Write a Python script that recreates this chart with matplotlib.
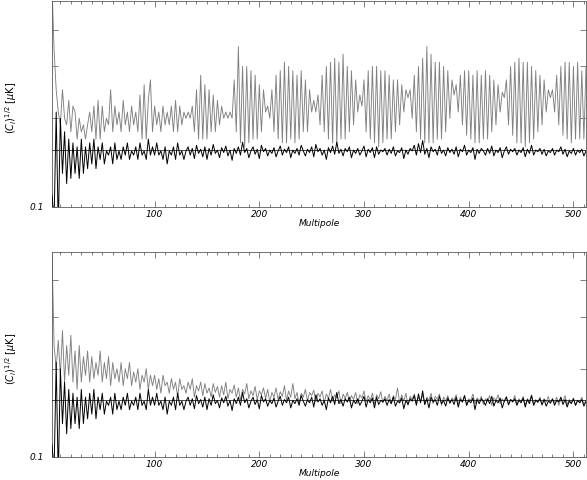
import numpy as np
import matplotlib
matplotlib.use("Agg")
import matplotlib.pyplot as plt

# multipoles (every second one)
ell = np.arange(2, 513, 2)

# top panel, grey curve (sqrt C_l, uK)
top_grey = [
    0.56, 0.34, 0.25, 0.21, 0.19, 0.25, 0.20, 0.19, 0.23, 0.18, 0.22, 0.21, 0.17, 0.20, 0.18, 0.19,
    0.17, 0.19, 0.21, 0.18, 0.22, 0.17, 0.23, 0.17, 0.22, 0.18, 0.20, 0.19, 0.25, 0.18, 0.22, 0.19,
    0.21, 0.18, 0.23, 0.19, 0.21, 0.18, 0.22, 0.19, 0.21, 0.18, 0.24, 0.17, 0.26, 0.17, 0.23, 0.27,
    0.18, 0.22, 0.19, 0.21, 0.18, 0.22, 0.19, 0.21, 0.19, 0.22, 0.18, 0.23, 0.18, 0.22, 0.19, 0.21,
    0.20, 0.21, 0.20, 0.22, 0.18, 0.25, 0.17, 0.28, 0.17, 0.26, 0.17, 0.25, 0.18, 0.24, 0.18, 0.23,
    0.19, 0.22, 0.20, 0.21, 0.20, 0.21, 0.20, 0.27, 0.18, 0.35, 0.165, 0.30, 0.16, 0.30, 0.165, 0.29,
    0.17, 0.28, 0.17, 0.26, 0.18, 0.25, 0.21, 0.22, 0.20, 0.25, 0.18, 0.28, 0.17, 0.29, 0.165, 0.31,
    0.165, 0.30, 0.17, 0.29, 0.165, 0.28, 0.17, 0.29, 0.18, 0.27, 0.18, 0.25, 0.21, 0.23, 0.21, 0.24,
    0.19, 0.28, 0.18, 0.30, 0.17, 0.31, 0.165, 0.32, 0.165, 0.31, 0.17, 0.33, 0.17, 0.30, 0.18, 0.29,
    0.19, 0.27, 0.21, 0.24, 0.22, 0.27, 0.18, 0.29, 0.17, 0.30, 0.165, 0.30, 0.16, 0.29, 0.165, 0.29,
    0.17, 0.28, 0.17, 0.27, 0.18, 0.27, 0.19, 0.26, 0.21, 0.25, 0.235, 0.25, 0.20, 0.28, 0.18, 0.30,
    0.17, 0.32, 0.165, 0.35, 0.165, 0.33, 0.165, 0.31, 0.17, 0.31, 0.17, 0.30, 0.18, 0.29, 0.20, 0.27,
    0.24, 0.26, 0.21, 0.28, 0.19, 0.29, 0.175, 0.29, 0.17, 0.28, 0.165, 0.29, 0.165, 0.28, 0.17, 0.29,
    0.17, 0.28, 0.18, 0.27, 0.19, 0.26, 0.21, 0.245, 0.235, 0.27, 0.19, 0.30, 0.175, 0.31, 0.165, 0.32,
    0.165, 0.31, 0.16, 0.31, 0.165, 0.30, 0.17, 0.29, 0.18, 0.28, 0.19, 0.27, 0.21, 0.25, 0.235, 0.25,
    0.21, 0.28, 0.19, 0.30, 0.175, 0.31, 0.17, 0.31, 0.165, 0.30, 0.17, 0.31, 0.17, 0.29, 0.17, 0.30,
]

# black curve, same in both panels
black = [
    0.11, 0.09, 0.21, 0.085, 0.20, 0.13, 0.18, 0.12, 0.17, 0.125, 0.165, 0.13, 0.16, 0.125, 0.17, 0.13,
    0.16, 0.135, 0.165, 0.14, 0.17, 0.135, 0.16, 0.145, 0.165, 0.14, 0.155, 0.15, 0.16, 0.14, 0.165, 0.145,
    0.155, 0.145, 0.16, 0.15, 0.165, 0.145, 0.155, 0.15, 0.16, 0.145, 0.165, 0.15, 0.155, 0.145, 0.17, 0.15,
    0.16, 0.15, 0.165, 0.15, 0.155, 0.145, 0.16, 0.14, 0.155, 0.15, 0.16, 0.145, 0.165, 0.15, 0.155, 0.145,
    0.155, 0.16, 0.15, 0.158, 0.146, 0.162, 0.152, 0.157, 0.148, 0.16, 0.145, 0.158, 0.15, 0.163, 0.152, 0.156,
    0.147, 0.159, 0.153, 0.161, 0.149, 0.156, 0.144, 0.158, 0.152, 0.16, 0.15, 0.166, 0.153, 0.158, 0.147, 0.155,
    0.16, 0.151, 0.157, 0.146, 0.162, 0.154, 0.158, 0.149, 0.156, 0.152, 0.159, 0.148, 0.155, 0.161, 0.15, 0.157,
    0.153, 0.16, 0.147, 0.156, 0.152, 0.158, 0.15, 0.162, 0.155, 0.149, 0.157, 0.153, 0.16, 0.148, 0.163, 0.154,
    0.158, 0.15, 0.156, 0.145, 0.159, 0.153, 0.161, 0.151, 0.166, 0.152, 0.157, 0.149, 0.158, 0.154, 0.16, 0.147,
    0.156, 0.152, 0.158, 0.15, 0.155, 0.161, 0.148, 0.157, 0.153, 0.159, 0.147, 0.16, 0.151, 0.156, 0.154, 0.158,
    0.15, 0.157, 0.152, 0.16, 0.149, 0.155, 0.153, 0.159, 0.146, 0.156, 0.151, 0.158, 0.155, 0.162, 0.15, 0.164,
    0.153, 0.168, 0.151, 0.158, 0.147, 0.16, 0.154, 0.157, 0.15, 0.161, 0.152, 0.156, 0.149, 0.159, 0.153, 0.157,
    0.151, 0.16, 0.148, 0.157, 0.154, 0.162, 0.15, 0.156, 0.153, 0.159, 0.145, 0.157, 0.152, 0.158, 0.155, 0.15,
    0.158, 0.152, 0.161, 0.149, 0.156, 0.153, 0.159, 0.147, 0.155, 0.16, 0.151, 0.157, 0.154, 0.158, 0.15, 0.156,
    0.153, 0.159, 0.148, 0.157, 0.152, 0.162, 0.15, 0.156, 0.154, 0.158, 0.151, 0.157, 0.149, 0.155, 0.153, 0.158,
    0.15, 0.156, 0.154, 0.16, 0.151, 0.157, 0.148, 0.155, 0.152, 0.158, 0.15, 0.156, 0.153, 0.157, 0.149, 0.155,
]

# bottom panel, grey curve
bottom_grey = [
    0.50, 0.24, 0.20, 0.25, 0.19, 0.27, 0.18, 0.24, 0.19, 0.26, 0.18, 0.23, 0.17, 0.24, 0.18, 0.22,
    0.19, 0.23, 0.18, 0.22, 0.185, 0.21, 0.19, 0.23, 0.18, 0.21, 0.185, 0.22, 0.175, 0.21, 0.185, 0.20,
    0.18, 0.21, 0.175, 0.20, 0.185, 0.21, 0.175, 0.195, 0.18, 0.20, 0.17, 0.19, 0.18, 0.20, 0.17, 0.19,
    0.175, 0.19, 0.17, 0.185, 0.165, 0.19, 0.175, 0.18, 0.165, 0.185, 0.17, 0.18, 0.16, 0.185, 0.17, 0.175,
    0.165, 0.18, 0.17, 0.185, 0.16, 0.175, 0.168, 0.18, 0.162, 0.178, 0.165, 0.172, 0.16, 0.178, 0.166, 0.174,
    0.16, 0.175, 0.163, 0.18, 0.158, 0.17, 0.165, 0.176, 0.16, 0.172, 0.156, 0.17, 0.164, 0.178, 0.158, 0.168,
    0.162, 0.174, 0.157, 0.168, 0.163, 0.172, 0.158, 0.17, 0.154, 0.166, 0.16, 0.172, 0.157, 0.167, 0.161, 0.175,
    0.156, 0.168, 0.16, 0.178, 0.158, 0.166, 0.152, 0.165, 0.16, 0.17, 0.155, 0.166, 0.162, 0.169, 0.154, 0.165,
    0.16, 0.168, 0.153, 0.164, 0.158, 0.17, 0.155, 0.163, 0.159, 0.168, 0.152, 0.164, 0.158, 0.166, 0.154, 0.162,
    0.157, 0.166, 0.152, 0.163, 0.159, 0.168, 0.154, 0.162, 0.156, 0.165, 0.151, 0.163, 0.158, 0.167, 0.153, 0.161,
    0.156, 0.164, 0.152, 0.162, 0.157, 0.172, 0.153, 0.163, 0.155, 0.165, 0.15, 0.161, 0.157, 0.164, 0.153, 0.16,
    0.155, 0.163, 0.151, 0.16, 0.156, 0.165, 0.152, 0.161, 0.157, 0.164, 0.15, 0.16, 0.155, 0.162, 0.152, 0.159,
    0.156, 0.163, 0.151, 0.16, 0.154, 0.162, 0.15, 0.158, 0.156, 0.164, 0.152, 0.159, 0.155, 0.161, 0.151, 0.158,
    0.155, 0.162, 0.15, 0.159, 0.156, 0.163, 0.152, 0.158, 0.154, 0.161, 0.15, 0.157, 0.155, 0.162, 0.151, 0.158,
    0.154, 0.161, 0.15, 0.158, 0.155, 0.163, 0.151, 0.157, 0.153, 0.16, 0.15, 0.158, 0.154, 0.161, 0.152, 0.157,
    0.153, 0.16, 0.15, 0.158, 0.155, 0.162, 0.151, 0.157, 0.153, 0.159, 0.15, 0.156, 0.154, 0.16, 0.151, 0.156,
]

noise_level = 0.156
x_ticks = [100, 200, 300, 400, 500]
y_ticks = [0.1, 0.2, 0.3, 0.4]
y_ticklabels = ["0.1", "", "", ""]

fnt = dict(family="DejaVu Sans", style="italic", size=6.5)

fig = plt.figure(figsize=(5.87, 4.8), dpi=100)
W, H = 587.0, 480.0
rects = [
    [52 / W, 1 - 207 / H, 534 / W, 206 / H],
    [52 / W, 1 - 457 / H, 534 / W, 205 / H],
]

for rect, grey in zip(rects, [top_grey, bottom_grey]):
    ax = fig.add_axes(rect)
    ax.plot(ell, grey, color="0.5", lw=0.65, zorder=2)
    ax.plot(ell, black, color="black", lw=0.7, zorder=3)
    ax.axhline(noise_level, color="black", lw=0.5, zorder=4)
    ax.set_yscale("log")
    ax.set_xlim(2, 512)
    ax.set_ylim(0.1, 0.5)
    ax.set_xticks(x_ticks)
    ax.set_xticks(np.arange(10, 512, 10), minor=True)
    ax.set_xticklabels([str(t) for t in x_ticks], **fnt)
    ax.set_yticks(y_ticks)
    ax.set_yticklabels(y_ticklabels, **fnt)
    ax.yaxis.set_minor_locator(matplotlib.ticker.NullLocator())
    ax.tick_params(which="both", direction="in", top=True, right=True,
                   width=0.5, colors="0.3", labelcolor="black")
    ax.tick_params(which="major", length=4)
    ax.tick_params(which="minor", length=2.2)
    ax.tick_params(axis="x", which="major", pad=2.5)
    ax.tick_params(axis="y", which="major", length=4, pad=6)
    for s in ax.spines.values():
        s.set_linewidth(0.6)
        s.set_color("0.35")
    ax.set_xlabel("Multipole", labelpad=0, **fnt)
    ax.set_ylabel(r"$(C_l)^{1/2}$ [$\mu$K]", family="DejaVu Sans", size=7)
    ax.yaxis.set_label_coords(-0.062, 0.48)

fig.savefig("out.png", dpi=100)
